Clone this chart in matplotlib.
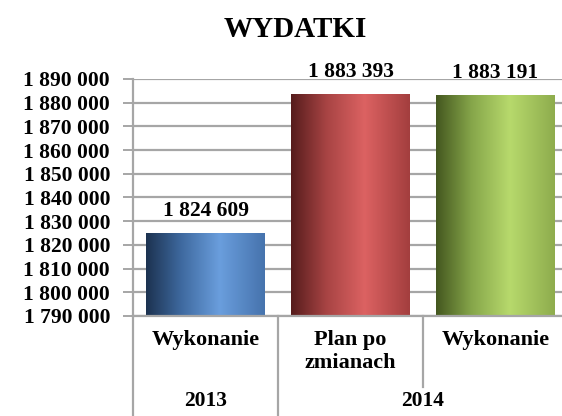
import numpy as np
import matplotlib
matplotlib.use("Agg")
from matplotlib import pyplot as plt
from matplotlib.colors import LinearSegmentedColormap

# data
categories = ["Wykonanie", "Plan po\nzmianach", "Wykonanie"]
years = ["2013", "2014"]
year_spans = [(0, 0), (1, 2)]
values = [1824609, 1883393, 1883191]
ymin, ymax, ystep = 1790000, 1890000, 10000

# gradient stops for the bars: dark edge -> highlight -> mid
shades = [
    ["#1c3250", "#3f6aa0", "#6a9edd", "#4673ad"],
    ["#561c1c", "#a84444", "#dc6262", "#a33e3e"],
    ["#44571f", "#86a64a", "#b7d96c", "#8eac4d"],
]

def fmt(v):
    return "{:,}".format(int(v)).replace(",", " ")

plt.rcParams["font.family"] = "Liberation Serif"
plt.rcParams["font.weight"] = "bold"

fig = plt.figure(figsize=(5.62, 4.16), dpi=100)
ax = fig.add_axes([0.2367, 0.2404, 0.7740, 0.5697])

grid_c = "#a6a6a6"
x = np.arange(len(values))
bars = ax.bar(x, np.array(values) - ymin, bottom=ymin, width=0.82, color="none", zorder=2)

# fake cylinder shading with a horizontal gradient image per bar
for b, cols in zip(bars, shades):
    cmap = LinearSegmentedColormap.from_list("g", list(zip([0, 0.3, 0.62, 1.0], cols)))
    x0, w = b.get_x(), b.get_width()
    ax.imshow(np.linspace(0, 1, 256)[None, :], cmap=cmap, aspect="auto",
              extent=[x0, x0 + w, ymin, ymin + b.get_height()], zorder=2)

for b, v in zip(bars, values):
    ax.annotate(fmt(v), (b.get_x() + b.get_width() / 2, v), xytext=(0, 9),
                textcoords="offset points", ha="center", va="bottom",
                fontsize=15.5, fontweight="bold")

ax.set_xlim(-0.5, len(values) - 0.5)
ax.set_ylim(ymin, ymax)
yt = np.arange(ymin, ymax + 1, ystep)
ax.set_yticks(yt)
ax.set_yticklabels([fmt(t) for t in yt], fontsize=15.5, fontweight="bold")
ax.set_xticks([])
ax.yaxis.grid(True, color=grid_c, linewidth=1.6, zorder=0)
ax.set_axisbelow(True)
ax.tick_params(axis="y", direction="out", length=7, width=1.4, color=grid_c, pad=9.5)
for s in ["top", "right"]:
    ax.spines[s].set_visible(False)
for s in ["left", "bottom"]:
    ax.spines[s].set_color(grid_c)
    ax.spines[s].set_linewidth(1.6)

# multi level category axis
tr = ax.get_xaxis_transform()
for i, c in enumerate(categories):
    ax.text(i, -0.06, c, transform=tr, ha="center", va="top", fontsize=16,
            fontweight="bold", linespacing=1.2)
for i, (a, b) in enumerate(year_spans):
    ax.text((a + b) / 2, -0.38, years[i], transform=tr, ha="center", va="baseline",
            fontsize=15.5, fontweight="bold")
# separators between categories; full height at year boundaries
bounds = [-0.5] + [s[1] + 0.5 for s in year_spans]
for k in range(len(values) + 1):
    xb = k - 0.5
    low = -0.6 if xb in bounds else -0.30
    ax.plot([xb, xb], [0, low], transform=tr, color=grid_c, lw=1.6, clip_on=False)

fig.text(0.525, 0.911, "WYDATKI", ha="center", va="baseline", fontsize=21, fontweight="bold")

plt.savefig("out.png", dpi=100)
